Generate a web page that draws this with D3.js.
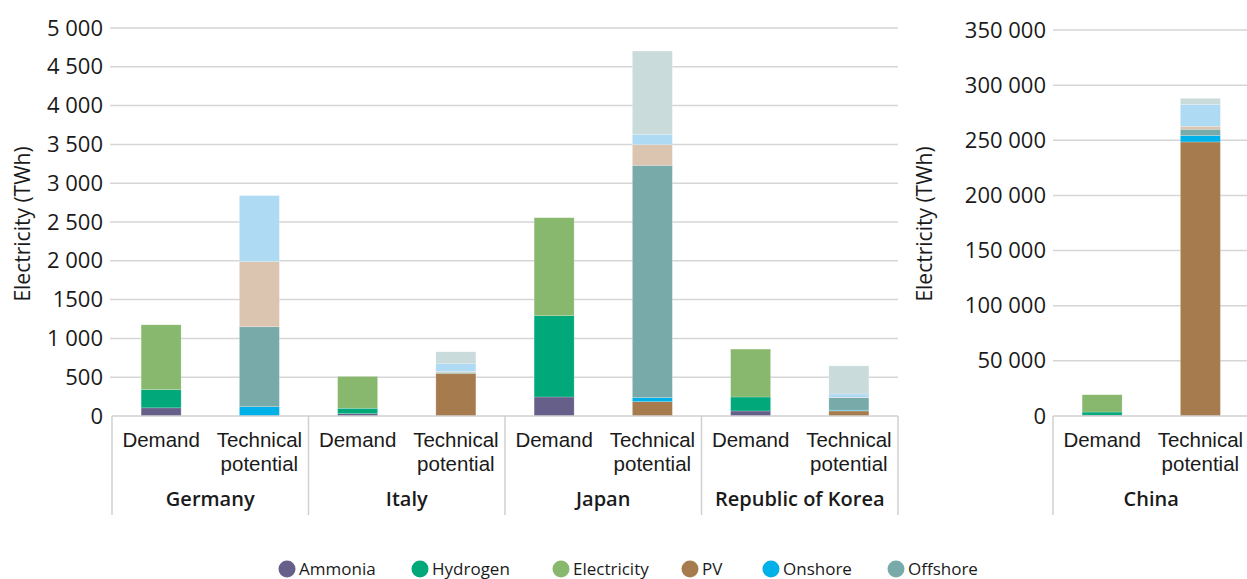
<!DOCTYPE html>
<html><head><meta charset="utf-8">
<script src="https://cdn.jsdelivr.net/npm/d3@7"></script>
<style>
html,body{margin:0;padding:0;background:#fff;}
svg{display:block;font-family:"Open Sans",sans-serif;}
</style></head>
<body>
<svg id="chart" width="1247" height="579"></svg>
<script>
// ---- data ----
const leftGroups = ["Germany", "Italy", "Japan", "Republic of Korea"];
const rightGroups = ["China"];
const categories = ["Demand", "Technical potential"];
const seriesKeys = ["ammonia","hydrogen","electricity","pv","onshore","offshore","pvExtra","onshoreExtra","offshoreExtra"];
const legendLabels = ["Ammonia","Hydrogen","Electricity","PV","Onshore","Offshore"];
// one entry per bar: group|category
const barIds = ["Germany|Demand","Germany|Technical potential","Italy|Demand","Italy|Technical potential",
  "Japan|Demand","Japan|Technical potential","Republic of Korea|Demand","Republic of Korea|Technical potential",
  "China|Demand","China|Technical potential"];
const ammonia       = [105, 0, 30, 0, 245, 0, 65, 0, 800, 0];
const hydrogen      = [235, 0, 70, 0, 1047, 0, 180, 0, 2800, 0];
const electricity   = [835, 0, 410, 0, 1263, 0, 617, 0, 15700, 0];
const pv            = [0, 0, 0, 548, 0, 185, 0, 65, 0, 248500];
const onshore       = [0, 120, 0, 0, 0, 52, 0, 10, 0, 5800];
const offshore      = [0, 1030, 0, 15, 0, 2993, 0, 161, 0, 5700];
const pvExtra       = [0, 840, 0, 10, 0, 267, 0, 5, 0, 2700];
const onshoreExtra  = [0, 850, 0, 100, 0, 133, 0, 43, 0, 19900];
const offshoreExtra = [0, 0, 0, 154, 0, 1073, 0, 362, 0, 5400];
const leftTicks = [0,500,1000,1500,2000,2500,3000,3500,4000,4500,5000];
const leftTickLabels = ["0","500","1 000","1500","2 000","2 500","3 000","3 500","4 000","4 500","5 000"];
const rightTicks = [0,50000,100000,150000,200000,250000,300000,350000];
const rightTickLabels = ["0","50 000","100 000","150 000","200 000","250 000","300 000","350 000"];
const yTitle = "Electricity (TWh)";

const colors = {
  ammonia:"#655f89", hydrogen:"#00a87a", electricity:"#88b86d", pv:"#a67b4d",
  onshore:"#00b0e8", offshore:"#78aaaa", pvExtra:"#dbc4b0", onshoreExtra:"#aedaf3", offshoreExtra:"#c9dbdb"
};
const seriesArrays = {ammonia, hydrogen, electricity, pv, onshore, offshore, pvExtra, onshoreExtra, offshoreExtra};
const rows = barIds.map((id,i)=>{
  const [g,c] = id.split("|");
  const r = {group:g, cat:c};
  seriesKeys.forEach(k=> r[k]=seriesArrays[k][i]);
  return r;
});

const svg = d3.select("#chart");
const baseY = 416;
const textColor = "#1a1a1a";
const gridColor = "#d6d6d6";
const FONT = "'Open Sans', sans-serif";
const CAT_FONT = "'Liberation Sans', Arial, sans-serif";

function panel(groups, x0, x1, yMax, yTop, ticks, tickLabels, gridX0, gridX1, titleX){
  const y = d3.scaleLinear().domain([0,yMax]).range([baseY, yTop]);
  const xg = d3.scaleBand().domain(groups).range([x0,x1]).padding(0);
  const xc = d3.scaleBand().domain(categories).range([0,xg.bandwidth()]).paddingInner(0.593).paddingOuter(0.2965);
  const g = svg.append("g");
  // grid
  g.append("g").selectAll("line").data(ticks.filter(t=>t>0)).join("line")
    .attr("x1",gridX0).attr("x2",gridX1).attr("y1",d=>y(d)).attr("y2",d=>y(d))
    .attr("stroke",gridColor).attr("stroke-width",1.5);
  // y axis labels
  const ax = d3.axisLeft(y).tickValues(ticks).tickSize(0).tickPadding(0)
    .tickFormat((d,i)=>tickLabels[i]);
  const axg = g.append("g").attr("transform",`translate(${gridX0-7},0)`).call(ax);
  axg.select(".domain").remove();
  axg.selectAll("text").attr("font-size",22).attr("fill",textColor).attr("font-family",FONT);
  // bars
  const data = rows.filter(r=>groups.includes(r.group));
  const stack = d3.stack().keys(seriesKeys)(data);
  g.append("g").selectAll("g").data(stack).join("g").attr("fill",d=>colors[d.key])
    .selectAll("rect").data(d=>d.filter(p=>p[1]-p[0]>0)).join("rect")
    .attr("x",d=>xg(d.data.group)+xc(d.data.cat))
    .attr("width",xc.bandwidth())
    .attr("y",d=>y(d[1]))
    .attr("height",d=>y(d[0])-y(d[1]))
    .attr("stroke","#ffffff").attr("stroke-opacity",0.35).attr("stroke-width",0.6);
  // category axis box
  g.append("line").attr("x1",x0).attr("x2",gridX1).attr("y1",baseY).attr("y2",baseY)
    .attr("stroke","#d0d0d0").attr("stroke-width",1.5);
  const bounds = groups.map(d=>xg(d)).concat([x1]);
  g.append("g").selectAll("line").data(bounds).join("line")
    .attr("x1",d=>d).attr("x2",d=>d).attr("y1",baseY).attr("y2",515)
    .attr("stroke","#d0d0d0").attr("stroke-width",1.5);
  // category labels
  groups.forEach(gr=>{
    categories.forEach(c=>{
      const cx = xg(gr)+xc(c)+xc.bandwidth()/2;
      const words = c==="Technical potential" ? ["Technical","potential"] : [c];
      words.forEach((w,i)=>{
        g.append("text").attr("x",cx).attr("y",447+i*23.5).attr("text-anchor","middle")
          .attr("font-family",CAT_FONT).attr("font-size",20.5).attr("fill",textColor).text(w);
      });
    });
    g.append("text").attr("x",xg(gr)+xg.bandwidth()/2).attr("y",506).attr("text-anchor","middle")
      .attr("font-size",20).attr("font-weight","600").attr("fill",textColor).text(gr);
  });
  // y title
  g.append("text").attr("transform",`translate(${titleX},224) rotate(-90)`).attr("text-anchor","middle")
    .attr("font-size",21).attr("fill",textColor).text(yTitle);
}

panel(leftGroups, 112, 898, 5000, 28, leftTicks, leftTickLabels, 110, 898, 30);
panel(rightGroups, 1053, 1249.5, 350000, 30, rightTicks, rightTickLabels, 1053, 1247, 932);

// legend
const legendX = [287, 420, 561, 690, 771, 896];
const lg = svg.append("g");
legendLabels.forEach((l,i)=>{
  const k = seriesKeys[i];
  lg.append("circle").attr("cx",legendX[i]).attr("cy",569).attr("r",8.5).attr("fill",colors[k]);
  lg.append("text").attr("x",legendX[i]+12).attr("y",575).attr("font-size",17).attr("fill",textColor).text(l);
});
</script>
</body></html>
